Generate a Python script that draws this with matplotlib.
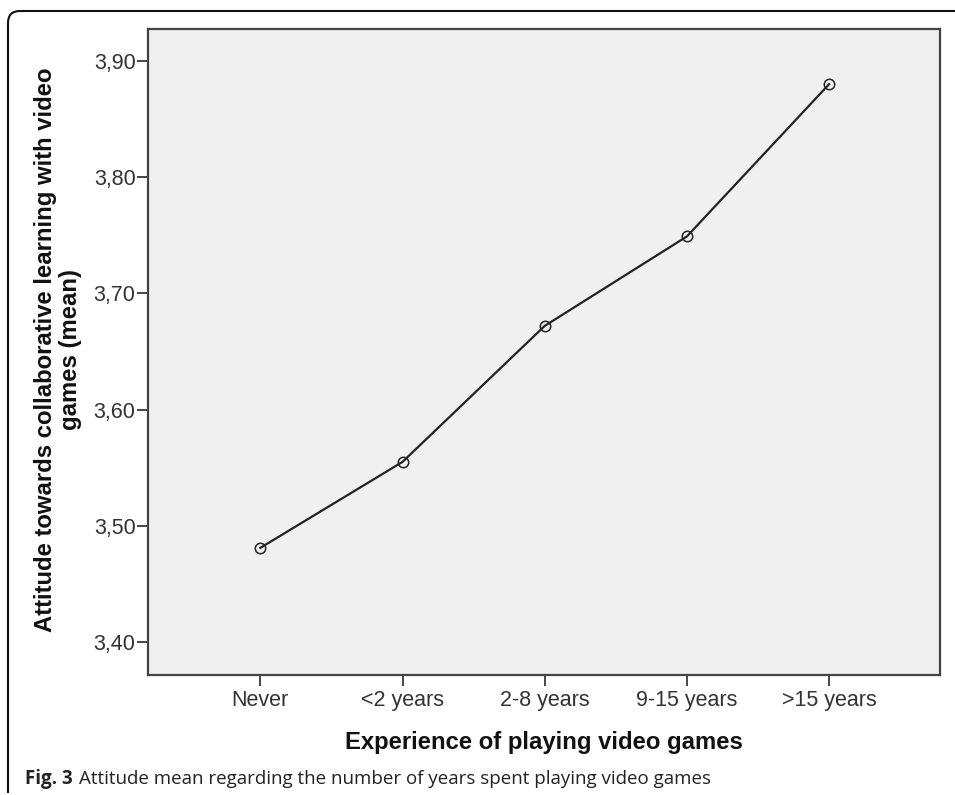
import matplotlib
matplotlib.use("Agg")
import matplotlib.pyplot as plt
from matplotlib.path import Path
from matplotlib.patches import PathPatch

categories = ["Never", "<2 years", "2-8 years", "9-15 years", ">15 years"]
means = [3.481, 3.555, 3.672, 3.749, 3.880]
yticks = [3.40, 3.50, 3.60, 3.70, 3.80, 3.90]
ytick_labels = ["3,40", "3,50", "3,60", "3,70", "3,80", "3,90"]

W, H = 955, 795
fig = plt.figure(figsize=(W / 100, H / 100), dpi=100)
fig.patch.set_facecolor("white")

ax = fig.add_axes([148 / W, 1 - 675 / H, (940 - 148) / W, (675 - 29) / H])
ax.set_facecolor("#f0f0f0")
x = list(range(len(categories)))
ax.plot(x, means, color="#222222", lw=1.6, marker="o", markersize=7.5,
        markerfacecolor="none", markeredgecolor="#222222", markeredgewidth=1.1)
ax.set_xlim(-0.79, 4.78)
ax.set_ylim(3.3716, 3.9275)
ax.set_xticks(x)
ax.set_xticklabels(categories)
ax.set_yticks(yticks)
ax.set_yticklabels(ytick_labels)
for s in ax.spines.values():
    s.set_color("#444444")
    s.set_linewidth(1.6)
ax.tick_params(axis="both", direction="out", length=8, width=1.4, color="#444444",
               labelsize=15.5, labelcolor="#333333")
ax.tick_params(axis="y", pad=1)
ax.tick_params(axis="x", pad=3)
for lab in ax.get_xticklabels() + ax.get_yticklabels():
    lab.set_family("Liberation Sans")

fig.text(58 / W, 1 - 350 / H,
         "Attitude towards collaborative learning with video\ngames (mean)",
         rotation=90, ha="center", va="center", multialignment="center",
         fontsize=17.2, fontweight="bold", family="Liberation Sans", color="#111111",
         linespacing=1.15)
fig.text(544 / W, 1 - 742 / H, "Experience of playing video games",
         ha="center", va="center", fontsize=17.2, fontweight="bold",
         family="Liberation Sans", color="#111111")

# caption
t1 = fig.text(25 / W, 1 - 779 / H, "Fig. 3", ha="left", va="center",
              fontsize=13.5, fontweight="bold", family="Open Sans", color="#222222")
fig.canvas.draw()
bb = t1.get_window_extent()
fig.text((bb.x1 + 6) / W, 1 - 779 / H,
         "Attitude mean regarding the number of years spent playing video games",
         ha="left", va="center", fontsize=13.5, family="Open Sans", color="#222222")

# rounded frame (top and left lines)
r = 12
verts = [(8, 793), (8, 11 + r), (8, 11), (8 + r, 11), (W, 11)]
codes = [Path.MOVETO, Path.LINETO, Path.CURVE3, Path.CURVE3, Path.LINETO]
verts_f = [(vx / W, 1 - vy / H) for vx, vy in verts]
fig.add_artist(PathPatch(Path(verts_f, codes), transform=fig.transFigure,
                         fill=False, edgecolor="#111111", lw=1.5))

fig.savefig("out.png", dpi=100, facecolor="white")
